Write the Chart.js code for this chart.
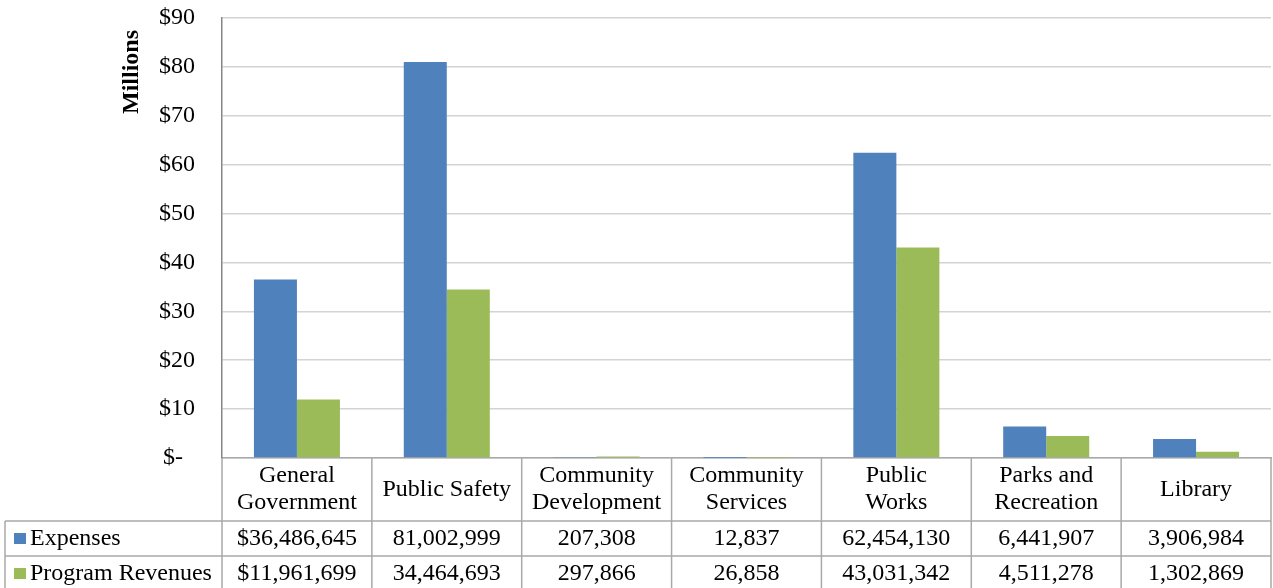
<!DOCTYPE html>
<html>
<head>
<meta charset="utf-8">
<script src="https://cdn.jsdelivr.net/npm/chart.js@4"></script>
<style>
  html, body { margin: 0; padding: 0; background: #fff; }
  #wrap { width: 1273px; height: 588px; overflow: hidden; }
</style>
</head>
<body>
<div id="wrap"><canvas id="c" width="1273" height="588"></canvas></div>
<script>
// ---- data ----
const categories = [
  ['General', 'Government'],
  'Public Safety',
  ['Community', 'Development'],
  ['Community', 'Services'],
  ['Public', 'Works'],
  ['Parks and', 'Recreation'],
  'Library'
];
const seriesNames = ['Expenses', 'Program Revenues'];
const expenses = [36486645, 81002999, 207308, 12837, 62454130, 6441907, 3906984];
const programRevenues = [11961699, 34464693, 297866, 26858, 43031342, 4511278, 1302869];
const yTickValues = [0, 10, 20, 30, 40, 50, 60, 70, 80, 90];
const yAxisTitle = 'Millions';

const colors = ['#4f81bd', '#9bbb59'];
const FONT = '"Liberation Serif", "Times New Roman", serif';
const FS = 24;

function fmt(v, first) {
  return (first ? '$' : '') + v.toLocaleString('en-US');
}

const tablePlugin = {
  id: 'dataTable',
  afterDraw(chart) {
    const ctx = chart.ctx;
    const xs = chart.scales.x;
    const ca = chart.chartArea;
    const n = categories.length;
    const cw = (ca.right - ca.left) / n;
    const top = xs.top;
    const headerBottom = top + 63;
    const rowH = 35;
    const rowsY = [headerBottom, headerBottom + rowH, headerBottom + 2 * rowH];
    const tableLeft = 5;

    ctx.save();
    ctx.strokeStyle = '#a9a9a9';
    ctx.lineWidth = 1.5;
    ctx.beginPath();
    for (let i = 0; i <= n; i++) {
      const x = ca.left + i * cw;
      ctx.moveTo(x, top);
      ctx.lineTo(x, chart.height + 5);
    }
    for (let r = 0; r < rowsY.length; r++) {
      ctx.moveTo(tableLeft, rowsY[r]);
      ctx.lineTo(ca.right, rowsY[r]);
    }
    ctx.moveTo(tableLeft, rowsY[0]);
    ctx.lineTo(tableLeft, chart.height + 5);
    ctx.stroke();

    const rows = [expenses, programRevenues];
    ctx.font = FS + 'px ' + FONT;
    ctx.fillStyle = '#000';
    ctx.textBaseline = 'middle';
    for (let r = 0; r < rows.length; r++) {
      const cy = rowsY[r] + rowH / 2 + 0.5;
      ctx.fillStyle = colors[r];
      ctx.fillRect(14, cy - 6, 12, 11);
      ctx.fillStyle = '#000';
      ctx.textAlign = 'left';
      ctx.fillText(seriesNames[r], 30, cy);
      ctx.textAlign = 'center';
      for (let i = 0; i < n; i++) {
        const x = xs.getPixelForValue(i);
        ctx.fillText(fmt(rows[r][i], i === 0), x, cy);
      }
    }
    ctx.restore();
  }
};

new Chart(document.getElementById('c'), {
  type: 'bar',
  data: {
    labels: categories,
    datasets: [
      { label: seriesNames[0], data: expenses.map(v => v / 1e6), backgroundColor: colors[0] },
      { label: seriesNames[1], data: programRevenues.map(v => v / 1e6), backgroundColor: colors[1] }
    ]
  },
  options: {
    responsive: false,
    devicePixelRatio: 1,
    animation: false,
    events: [],
    layout: { padding: { left: 117, top: 18, right: 2, bottom: 0 } },
    datasets: { bar: { categoryPercentage: 0.574, barPercentage: 1.0 } },
    plugins: { legend: { display: false }, tooltip: { enabled: false }, title: { display: false } },
    scales: {
      x: {
        grid: { display: false, drawTicks: false, tickLength: 0 },
        border: { display: true, color: '#a9a9a9', width: 1.5 },
        ticks: {
          color: '#000',
          font: { family: FONT, size: FS, lineHeight: '27px' },
          padding: 18,
          crossAlign: 'center',
          maxRotation: 0,
          autoSkip: false
        },
        afterFit(s) { s.height = 130; s.paddingLeft = 0; s.paddingRight = 0; }
      },
      y: {
        min: 0,
        max: 90,
        afterBuildTicks(s) { s.ticks = yTickValues.map(v => ({ value: v })); },
        grid: { color: '#d3d3d3', lineWidth: 1.5, drawTicks: false, tickLength: 0 },
        border: { display: true, color: '#868686', width: 1.5 },
        ticks: {
          color: '#000',
          font: { family: FONT, size: FS },
          padding: 27,
          callback: v => v === 0 ? '$-  ' : '$' + v
        },
        title: {
          display: true,
          text: yAxisTitle + '  ',
          align: 'end',
          color: '#000',
          font: { family: FONT, size: FS, weight: 'bold' },
          padding: { top: 0, bottom: 0 }
        },
        afterFit(s) { s.width = 105; s.paddingTop = 0; s.paddingBottom = 0; }
      }
    }
  },
  plugins: [tablePlugin]
});
</script>
</body>
</html>
